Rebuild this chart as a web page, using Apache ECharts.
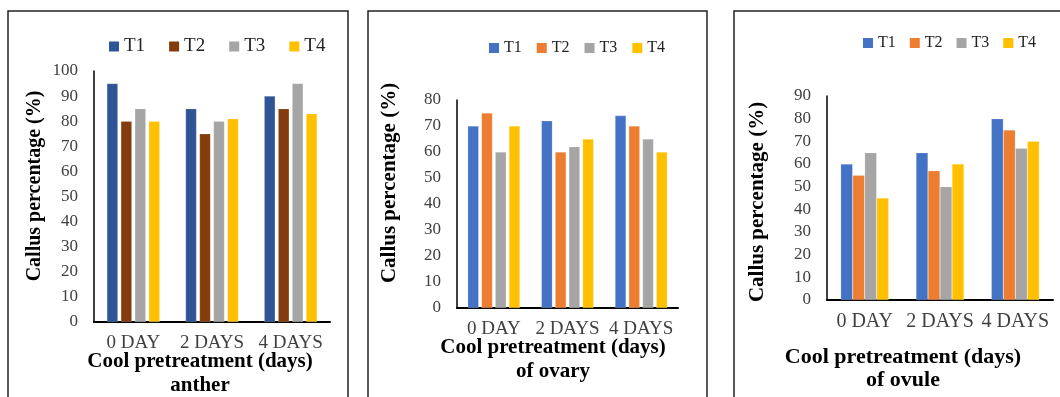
<!DOCTYPE html>
<html>
<head>
<meta charset="utf-8">
<script src="https://cdn.jsdelivr.net/npm/echarts@6/dist/echarts.min.js"></script>
<style>
html,body{margin:0;padding:0;background:#fff;}
#chart{width:1060px;height:397px;}
</style>
</head>
<body>
<div id="chart"></div>
<script>
// ---- data ----
var categories = ['0 DAY', '2 DAYS', '4 DAYS'];
var seriesNames = ['T1', 'T2', 'T3', 'T4'];

var antherT1 = [95, 85, 90];
var antherT2 = [80, 75, 85];
var antherT3 = [85, 80, 95];
var antherT4 = [80, 81, 83];

var ovaryT1 = [70, 72, 74];
var ovaryT2 = [75, 60, 70];
var ovaryT3 = [60, 62, 65];
var ovaryT4 = [70, 65, 60];

var ovuleT1 = [60, 65, 80];
var ovuleT2 = [55, 57, 75];
var ovuleT3 = [65, 50, 67];
var ovuleT4 = [45, 60, 70];

var yTitle = 'Callus percentage (%)';
var xTitle = 'Cool pretreatment (days)';
var panelSubtitles = ['anther', 'of ovary', 'of ovule'];

// ---- styles ----
var FONT = '"Liberation Serif", "Times New Roman", serif';
var colors1 = ['#2F5597', '#843C0C', '#A5A5A5', '#FFC000'];
var colors2 = ['#4472C4', '#ED7D31', '#A5A5A5', '#FFC000'];

var panels = [
  {data: [antherT1, antherT2, antherT3, antherT4], colors: colors1,
   grid: {left: 94, top: 71, width: 236, height: 251}, max: 100,
   barWidth: 11, barGap: '27%', legend: {left: 104, top: 32, fs: 19, gap: 24},
   yt: {x: 35, y: 186, fs: 20}, xt: {x: 200, y1: 362, y2: 386, fs: 21}, yLabelFs: 17, xLabelFs: 19},
  {data: [ovaryT1, ovaryT2, ovaryT3, ovaryT4], colors: colors2,
   grid: {left: 457, top: 100, width: 221, height: 208}, max: 80,
   barWidth: 11, barGap: '25%', legend: {left: 484, top: 35, fs: 16, gap: 15},
   yt: {x: 390, y: 183, fs: 21}, xt: {x: 553, y1: 348, y2: 372, fs: 21}, yLabelFs: 17, xLabelFs: 19},
  {data: [ovuleT1, ovuleT2, ovuleT3, ovuleT4], colors: colors2,
   grid: {left: 827, top: 96, width: 226, height: 204}, max: 90,
   barWidth: 12, barGap: '0%', legend: {left: 858, top: 30, fs: 16, gap: 14},
   yt: {x: 758, y: 202, fs: 21}, xt: {x: 903, y1: 357, y2: 380, fs: 22}, yLabelFs: 17, xLabelFs: 20}
];

var option = {
  animation: false,
  backgroundColor: '#fff',
  grid: [], xAxis: [], yAxis: [], series: [], legend: [], graphic: []
};

panels.forEach(function (p, i) {
  option.grid.push(p.grid);
  option.xAxis.push({
    type: 'category', gridIndex: i, data: categories,
    axisLine: {lineStyle: {color: '#000', width: 2}},
    axisTick: {show: false},
    axisLabel: {color: '#404040', fontFamily: FONT, fontSize: p.xLabelFs, margin: 12, interval: 0}
  });
  option.yAxis.push({
    type: 'value', gridIndex: i, min: 0, max: p.max, interval: 10,
    axisLine: {show: true, lineStyle: {color: '#000', width: 1.5}},
    axisTick: {show: false},
    splitLine: {show: false},
    axisLabel: {color: '#404040', fontFamily: FONT, fontSize: p.yLabelFs, margin: 16}
  });
  option.legend.push({
    data: seriesNames.map(function (n, k) { return {name: n, itemStyle: {color: p.colors[k], borderWidth: 0}}; }),
    left: p.legend.left, top: p.legend.top, orient: 'horizontal',
    icon: 'rect', itemWidth: 10, itemHeight: 10, itemGap: p.legend.gap,
    textStyle: {fontFamily: FONT, fontSize: p.legend.fs, color: '#222'},
    selectedMode: false
  });
  seriesNames.forEach(function (n, k) {
    option.series.push({
      type: 'bar', name: n, xAxisIndex: i, yAxisIndex: i,
      data: p.data[k], barWidth: p.barWidth, barGap: p.barGap,
      itemStyle: {color: p.colors[k], borderColor: 'rgba(255,255,255,0.35)', borderWidth: 0.5}
    });
  });
  // axis titles
  option.graphic.push({
    type: 'text', x: p.yt.x, y: p.yt.y, rotation: Math.PI / 2,
    style: {text: yTitle, font: 'bold ' + p.yt.fs + 'px ' + FONT, fill: '#000', textAlign: 'center', textVerticalAlign: 'middle'}
  });
  option.graphic.push({
    type: 'text', x: p.xt.x, y: p.xt.y1,
    style: {text: xTitle, font: 'bold ' + p.xt.fs + 'px ' + FONT, fill: '#000', textAlign: 'center', textVerticalAlign: 'middle'}
  });
  option.graphic.push({
    type: 'text', x: p.xt.x, y: p.xt.y2,
    style: {text: panelSubtitles[i], font: 'bold ' + p.xt.fs + 'px ' + FONT, fill: '#000', textAlign: 'center', textVerticalAlign: 'middle'}
  });
});

// panel frames
option.graphic.push({type: 'polyline', shape: {points: [[8, 400], [8, 11], [348, 11], [348, 400]]}, style: {stroke: '#222', lineWidth: 1.5, fill: null}});
option.graphic.push({type: 'polyline', shape: {points: [[368, 400], [368, 11], [707, 11], [707, 400]]}, style: {stroke: '#222', lineWidth: 1.5, fill: null}});
option.graphic.push({type: 'polyline', shape: {points: [[734, 400], [734, 11], [1062, 11]]}, style: {stroke: '#222', lineWidth: 1.5, fill: null}});

var chart = echarts.init(document.getElementById('chart'), null, {renderer: 'canvas'});
chart.setOption(option);
</script>
</body>
</html>
